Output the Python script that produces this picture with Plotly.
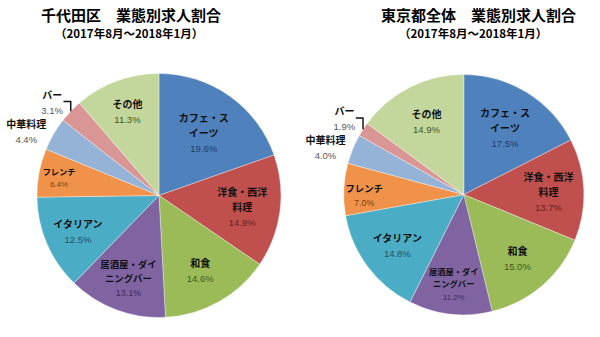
import plotly.graph_objects as go

categories = ["カフェ・スイーツ", "洋食・西洋料理", "和食", "居酒屋・ダイニングバー",
              "イタリアン", "フレンチ", "中華料理", "バー", "その他"]
display_names = ["カフェ・ス<br>イーツ", "洋食・西洋<br>料理", "和食", "居酒屋・ダイ<br>ニングバー",
                 "イタリアン", "フレンチ", "中華料理", "バー", "その他"]
chiyoda_values = [19.6, 14.9, 14.6, 13.1, 12.5, 6.4, 4.4, 3.1, 11.3]
tokyo_values = [17.5, 13.7, 15.0, 11.2, 14.8, 7.0, 4.0, 1.9, 14.9]

chiyoda_title = "千代田区　業態別求人割合"
tokyo_title = "東京都全体　業態別求人割合"
period = "（2017年8月～2018年1月）"

colors = ["#4F81BD", "#C0504D", "#9BBB59", "#8064A2", "#4BACC6",
          "#F0924A", "#95B3D7", "#DA9694", "#C3D69B"]
pct_colors = ["#1F3D6B", "#6B1F1D", "#3F5A1A", "#3D2A5A", "#1E5566",
              "#7A3E0A", "#555555", "#555555", "#3F5A1A"]
positions = ["inside", "inside", "inside", "inside", "inside",
             "inside", "outside", "outside", "inside"]


def make_text(values):
    out = []
    for n, v, c in zip(display_names, values, pct_colors):
        lines = [f"<span style='font-size:10px'><b>{part}</b></span>" for part in n.split("<br>")]
        lines.append(f"<span style='color:{c};font-family:Liberation Sans;font-size:9.5px'>{v:.1f}%</span>")
        out.append("<br>".join(lines))
    return out


fig = go.Figure()
for vals, dom in [(chiyoda_values, dict(x=[0.055, 0.465], y=[0.058, 0.782])),
                  (tokyo_values, dict(x=[0.570, 0.973], y=[0.062, 0.783]))]:
    fig.add_trace(go.Pie(
        labels=categories, values=vals, text=make_text(vals),
        textinfo="text", hoverinfo="label+percent",
        sort=False, direction="clockwise", rotation=0,
        marker=dict(colors=colors, line=dict(color="rgba(255,255,255,0.6)", width=0.6)),
        textposition=positions, insidetextorientation="horizontal",
        textfont=dict(family="Noto Sans CJK JP", size=11.5, color="#111111"),
        outsidetextfont=dict(family="Noto Sans CJK JP", size=11.5, color="#111111"),
        domain=dom, showlegend=False,
    ))

anns = [
    dict(x=128 / 600, y=1 - 15 / 337, text=f"<b>{chiyoda_title}</b>", font=dict(size=15)),
    dict(x=126 / 600, y=1 - 33 / 337, text=f"<b>{period}</b>", font=dict(size=11.5)),
    dict(x=478 / 600, y=1 - 15 / 337, text=f"<b>{tokyo_title}</b>", font=dict(size=15)),
    dict(x=472 / 600, y=1 - 33 / 337, text=f"<b>{period}</b>", font=dict(size=11.5)),
]
for a in anns:
    a.update(xref="paper", yref="paper", showarrow=False, xanchor="center", yanchor="middle")
    a["font"].update(family="Noto Sans CJK JP", color="#000000")

fig.update_layout(
    width=600, height=337, margin=dict(l=0, r=0, t=0, b=0),
    paper_bgcolor="white", plot_bgcolor="white",
    annotations=anns,
)
fig.write_html("out.html")
